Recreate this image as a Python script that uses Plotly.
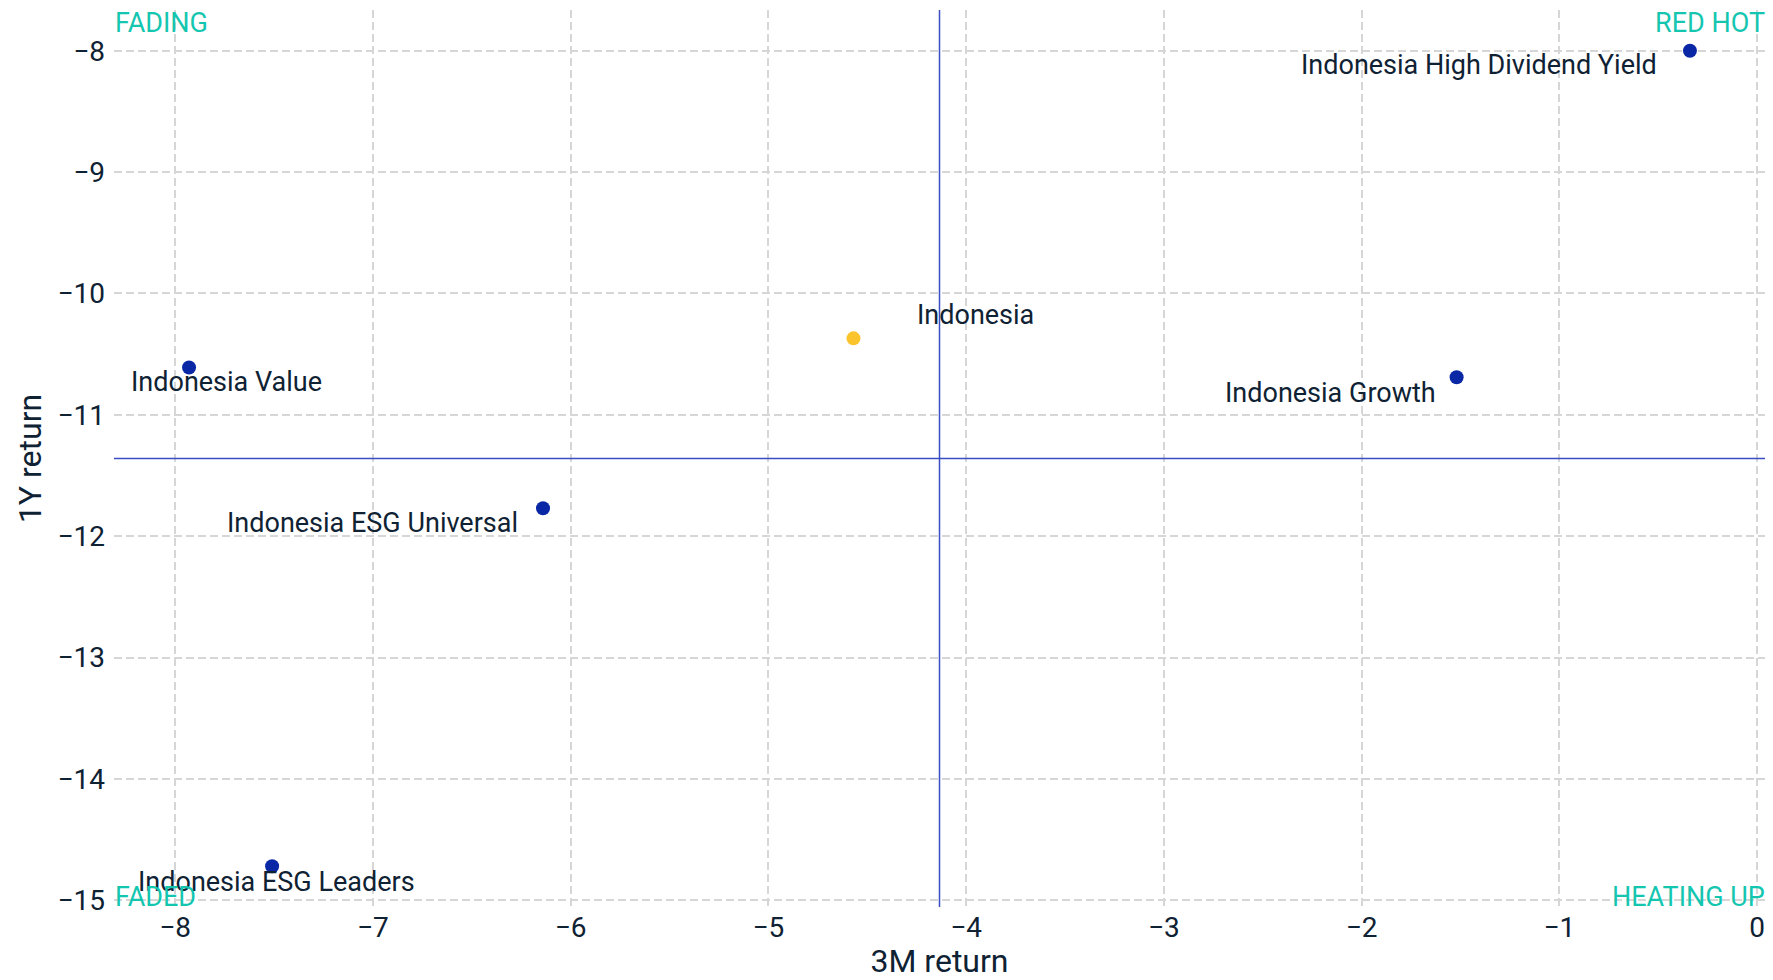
import plotly.graph_objects as go

# ---- data ----
names = [
    "Indonesia High Dividend Yield",
    "Indonesia",
    "Indonesia Value",
    "Indonesia Growth",
    "Indonesia ESG Universal",
    "Indonesia ESG Leaders",
]
ret_3m = [-0.34, -4.57, -7.93, -1.52, -6.14, -7.51]
ret_1y = [-8.00, -10.37, -10.61, -10.69, -11.77, -14.72]
is_benchmark = [False, True, False, False, False, False]

quadrant_labels = ["FADING", "RED HOT", "FADED", "HEATING UP"]
x_title = "3M return"
y_title = "1Y return"

# ---- styling / placement (not data) ----
FONT = "Roboto"
TEXT = "#0f2233"
TEAL = "#14c6b0"
BLUE = "#0a28a6"
YELLOW = "#fbc42d"
MEDIAN = "#3b4dc2"
GRID = "#d6d6d6"

# label placement: (xanchor, xshift, yshift)
label_pos = [
    ("right", -31, -14),
    ("left", 62, 23),
    ("left", -60, -15),
    ("right", -19, -16),
    ("right", -23, -15),
    ("left", -136, -16),
]

xmin, xmax = min(ret_3m), max(ret_3m)
ymin, ymax = min(ret_1y), max(ret_1y)
xpad = 0.05 * (xmax - xmin)
ypad = 0.05 * (ymax - ymin)
xmid = (xmin + xmax) / 2
ymid = (ymin + ymax) / 2

fig = go.Figure()
fig.add_trace(
    go.Scatter(
        x=ret_3m,
        y=ret_1y,
        mode="markers",
        marker=dict(size=14, color=[YELLOW if b else BLUE for b in is_benchmark]),
        text=names,
        hoverinfo="text",
        showlegend=False,
    )
)

annotations = []
for n, x, y, (xa, xs, ys) in zip(names, ret_3m, ret_1y, label_pos):
    annotations.append(
        dict(
            x=x, y=y, xref="x", yref="y", text=n, showarrow=False,
            xanchor=xa, yanchor="middle", xshift=xs, yshift=ys,
            font=dict(family=FONT, size=27, color=TEXT),
        )
    )

qpos = [
    (0, 1, "left", "top", -1, 5),
    (1, 1, "right", "top", 2, 5),
    (0, 0, "left", "middle", -1, 10),
    (1, 0, "right", "middle", 2, 10),
]
for lab, (px, py, xa, ya, xs, ys) in zip(quadrant_labels, qpos):
    annotations.append(
        dict(
            x=px, y=py, xref="paper", yref="paper", text=lab, showarrow=False,
            xanchor=xa, yanchor=ya, xshift=xs, yshift=ys,
            font=dict(family=FONT, size=27, color=TEAL),
        )
    )

shapes = [
    dict(type="line", xref="x", yref="paper", x0=xmid, x1=xmid, y0=0, y1=1,
         line=dict(color=MEDIAN, width=1.5)),
    dict(type="line", xref="paper", yref="y", x0=0, x1=1, y0=ymid, y1=ymid,
         line=dict(color=MEDIAN, width=1.5)),
]

axis_common = dict(
    showgrid=True, gridcolor=GRID, gridwidth=2, griddash="8px,4px",
    zeroline=False, showline=False, ticks="", automargin=False,
    tickfont=dict(family=FONT, size=28, color=TEXT),
    dtick=1,
)

fig.update_layout(
    width=1773, height=980,
    margin=dict(l=114, r=8, t=10, b=73),
    paper_bgcolor="white", plot_bgcolor="white",
    font=dict(family=FONT, color=TEXT),
    xaxis=dict(
        range=[xmin - xpad, xmax + xpad],
        ticklabelstandoff=1,
        title=dict(text=x_title, font=dict(family=FONT, size=32, color=TEXT), standoff=9),
        **axis_common,
    ),
    yaxis=dict(
        range=[ymin - ypad, ymax + ypad],
        ticklabelstandoff=8,
        title=dict(text=y_title, font=dict(family=FONT, size=32, color=TEXT), standoff=6),
        **axis_common,
    ),
    annotations=annotations,
    shapes=shapes,
)

fig.write_html(
    "out.html",
    config={"displayModeBar": False},
    post_script="document.body.style.margin='0';document.body.style.overflow='hidden';",
)
